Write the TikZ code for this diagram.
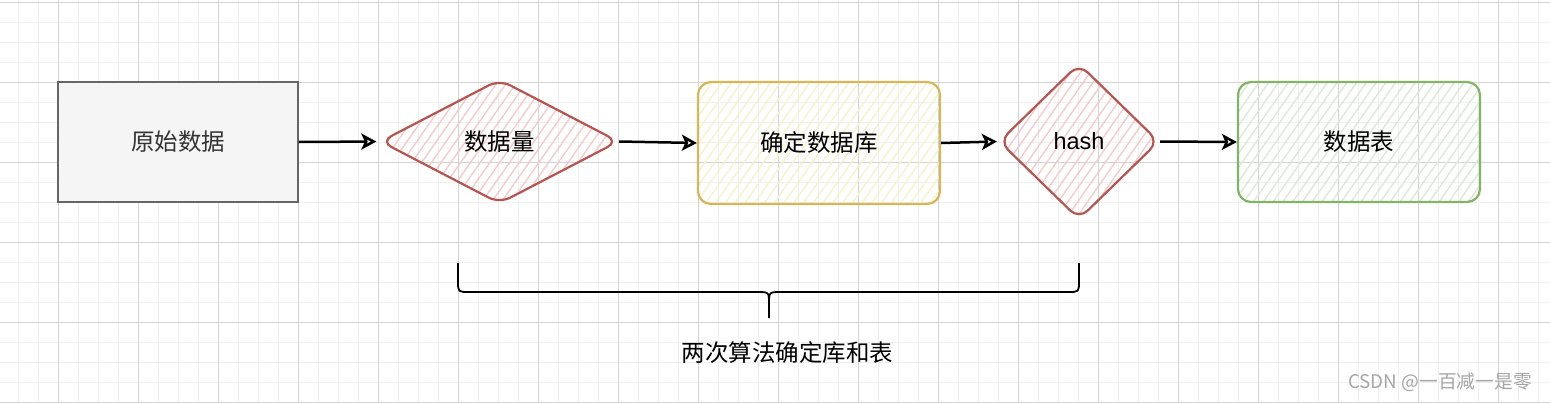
\documentclass[tikz,border=0pt]{standalone}
\usepackage{fontspec}
\setmainfont{Noto Sans CJK SC}
\newfontfamily\hv{Liberation Sans}
\usetikzlibrary{shapes.geometric,arrows.meta,patterns.meta}
\definecolor{gridmajor}{HTML}{D4D4D4}
\definecolor{gridminor}{HTML}{F0F0F0}
\definecolor{greyfill}{HTML}{F5F5F5}
\definecolor{greyline}{HTML}{666666}
\definecolor{greytext}{HTML}{333333}
\definecolor{redline}{HTML}{B85450}
\definecolor{redhatch}{HTML}{F6C9C6}
\definecolor{yelline}{HTML}{D6B656}
\definecolor{yelhatch}{HTML}{FCF0C8}
\definecolor{grnline}{HTML}{82B366}
\definecolor{grnhatch}{HTML}{D8EAD5}
\definecolor{wmark}{HTML}{A6A6A6}
\tikzset{
  txt/.style={font=\fontsize{23.5}{28}\selectfont},
  plainbox/.style={draw=greyline, fill=greyfill, line width=1.5pt, inner sep=0pt, txt, text=greytext},
  hatchbox/.style={line width=2.2pt, inner sep=0pt, txt, rounded corners=13pt,
     pattern={Lines[angle=55,distance=8pt,line width=1.3pt]}},
  hatchdia/.style={diamond, line width=2.2pt, inner sep=0pt, txt, rounded corners=12pt,
     draw=redline, pattern color=redhatch,
     pattern={Lines[angle=55,distance=8pt,line width=1.3pt]}},
  flow/.style={line width=2.5pt, -{Stealth[open,length=15pt,width=16pt,inset=3.5pt,line width=2.6pt]}},
}
\begin{document}
\begin{tikzpicture}[x=1pt,y=-1pt]
\useasboundingbox (0,0) rectangle (1550,402);
\fill[white] (0,0) rectangle (1550,402);
% grid
\foreach \x in {-2,18,...,1550} \draw[gridminor, line width=1pt] (\x,0) -- (\x,402);
\foreach \y in {2,22,...,402} \draw[gridminor, line width=1pt] (0,\y) -- (1550,\y);
\foreach \x in {58,138,...,1550} \draw[gridmajor, line width=1pt] (\x,0) -- (\x,402);
\foreach \y in {2,82,...,402} \draw[gridmajor, line width=1pt] (0,\y) -- (1550,\y);

% nodes
\node[plainbox, minimum width=240pt, minimum height=120pt] (raw) at (178,142) {原始数据};
\node[hatchdia, minimum width=238pt, minimum height=124pt] (vol) at (499.5,141.5) {数据量};
\node[hatchbox, draw=yelline, pattern color=yelhatch, minimum width=242pt, minimum height=122pt] (db) at (819,143) {确定数据库};
\node[hatchdia, minimum width=160pt, minimum height=156pt] (hash) at (1079,141.5) {\hv hash};
\node[hatchbox, draw=grnline, pattern color=grnhatch, minimum width=242pt, minimum height=120pt] (tbl) at (1359,142) {数据表};

% connectors
\draw[flow, shorten >=3.5pt] (raw.east) -- (vol.west);
\draw[flow] (vol.east) -- (db.west);
\draw[flow, shorten >=1pt] (db.east) -- (hash.west);
\draw[flow] (hash.east) -- (tbl.west);

% brace
\coordinate (bl) at (458,263);
\coordinate (br) at (1079,263);
\coordinate (btip) at (769,318);
\draw[line width=1.8pt] (bl) -- (458,281) .. controls (458,292) .. (469,292) -- (757,292)
   .. controls (769,292) .. (769,304) -- (btip);
\draw[line width=1.8pt] (br) -- (1079,281) .. controls (1079,292) .. (1068,292) -- (781,292)
   .. controls (769,292) .. (769,304);
\node[txt] (lbl) at (787.5,353) {两次算法确定库和表};

% watermark
\node[font=\fontsize{18.8}{22}\selectfont, text=wmark] (wm) at (1440,382) {CSDN @一百减一是零};
\end{tikzpicture}
\end{document}
